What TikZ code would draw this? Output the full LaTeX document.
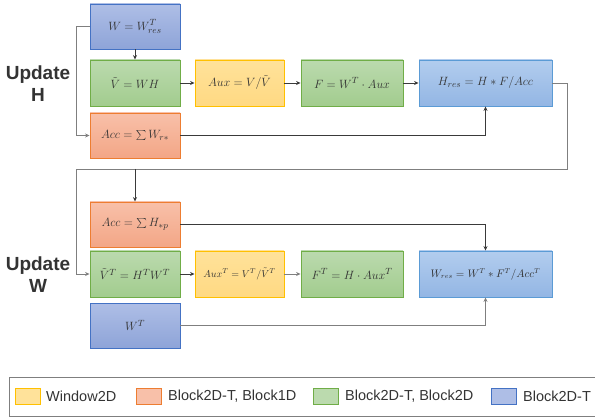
\documentclass[tikz,border=0pt]{standalone}
\usepackage{fontspec}
\setmainfont{Liberation Sans}
\usetikzlibrary{arrows.meta}
\definecolor{txt}{HTML}{333333}
\definecolor{lnd}{HTML}{3A3A3A}
\definecolor{lng}{HTML}{7F7F7F}
\definecolor{bluA}{HTML}{AEBEE6}\definecolor{bluB}{HTML}{8EA4D8}\definecolor{bluL}{HTML}{4472C4}
\definecolor{skyA}{HTML}{B2CDEE}\definecolor{skyB}{HTML}{93B6E4}\definecolor{skyL}{HTML}{5B9BD5}
\definecolor{grnA}{HTML}{BBDAAE}\definecolor{grnB}{HTML}{A2CC8E}\definecolor{grnL}{HTML}{70AD47}
\definecolor{yelA}{HTML}{FFE29A}\definecolor{yelB}{HTML}{FFD983}\definecolor{yelL}{HTML}{FFC000}
\definecolor{orgA}{HTML}{F8C0A9}\definecolor{orgB}{HTML}{F3A686}\definecolor{orgL}{HTML}{ED7D31}
\tikzset{
  box/.style={draw, line width=0.9pt, minimum height=46pt, inner sep=0pt, font=\fontsize{13}{15}\selectfont, text=txt},
  bblue/.style={box, draw=bluL, top color=bluA, bottom color=bluB},
  bsky/.style={box, draw=skyL, top color=skyA, bottom color=skyB},
  bgreen/.style={box, draw=grnL, top color=grnA, bottom color=grnB},
  byel/.style={box, draw=yelL, top color=yelA, bottom color=yelB},
  borg/.style={box, draw=orgL, top color=orgA, bottom color=orgB},
  conn/.style={draw=lnd, line width=0.8pt, -{Stealth[length=4.5pt,width=4pt]}},
  conng/.style={draw=lng, line width=0.9pt, -{Stealth[length=4.5pt,width=4pt]}},
  lbl/.style={font=\fontsize{19}{22}\selectfont\bfseries, text=txt, align=center, inner sep=0pt},
  legt/.style={font=\fontsize{14.5}{16}\selectfont, text=txt, anchor=west, inner sep=0pt},
  sw/.style={draw, line width=0.8pt, minimum width=25pt, minimum height=16pt, inner sep=0pt, anchor=west}
}
\begin{document}
\begin{tikzpicture}[x=1pt,y=-1pt]
\useasboundingbox (0,0) rectangle (595,417);
% Update H
\node[bblue, minimum width=90pt, minimum height=45pt] (w1) at (135,26.5) {$W = W_{res}^{T}$};
\node[bgreen, minimum width=90pt] (vt) at (135,83) {$\tilde{V} = WH$};
\node[byel, minimum width=89pt] (aux) at (239.5,83) {$Aux = V/\tilde{V}$};
\node[bgreen, minimum width=102pt] (f) at (352,83) {$F = W^{T}\cdot Aux$};
\node[bsky, minimum width=133pt] (hres) at (485.5,83) {$H_{res} = H * F/Acc$};
\node[borg, minimum width=90pt, minimum height=45pt] (acc) at (135,135.5) {$Acc = \textstyle\sum W_{r*}$};
\node[lbl] (uh) at (38,84) {Update\\H};
% Update W
\node[borg, minimum width=90pt, minimum height=45pt] (acc2) at (135,224.5) {$Acc = \textstyle\sum H_{*p}$};
\node[bgreen, minimum width=90pt] (vt2) at (135,274) {$\tilde{V}^{T} = H^{T}W^{T}$};
\node[byel, minimum width=89pt, font=\fontsize{10}{12}\selectfont] (aux2) at (239.5,274) {$Aux^{T} = V^{T}/\tilde{V}^{T}$};
\node[bgreen, minimum width=102pt] (f2) at (352,274) {$F^{T} = H\cdot Aux^{T}$};
\node[bsky, minimum width=133pt, font=\fontsize{10.5}{12}\selectfont] (wres) at (485.5,274) {$W_{res} = W^{T} * F^{T}/Acc^{T}$};
\node[bblue, minimum width=90pt, minimum height=45pt] (wt) at (135,325.5) {$W^{T}$};
\node[lbl] (uw) at (38,275) {Update\\W};
% connectors H
\draw[conn] (w1) -- (vt);
\coordinate (hl) at (76,26.5);
\draw[conng] (w1.west) -- (hl) |- (acc.west);
\draw[conn] (vt) -- (aux);
\draw[conn] (aux) -- (f);
\draw[conn] (f) -- (hres);
\draw[conn] (acc.east) -| (hres.south);
% loop to W
\coordinate (r1) at (567,169);
\coordinate (l1) at (76,169);
\draw[conng] (hres.east) -| (r1) -- (l1) |- (vt2.west);
\draw[conn] (acc2.north |- r1) -- (acc2.north);
% connectors W
\draw[conn] (vt2) -- (aux2);
\draw[conng] (aux2) -- (f2);
\draw[conn] (acc2.east) -| (wres.north);
\draw[conng] (wt.east) -| (wres.south);
% legend
\draw[draw=lng, line width=0.9pt] (9,377) rectangle (600,416);
\node[sw, draw=yelL, fill=yelA] (s1) at (15,396) {};
\node[legt] (t1) at (46,396) {Window2D};
\node[sw, draw=orgL, fill=orgA] (s2) at (136,396) {};
\node[legt] (t2) at (168,396) {Block2D-T, Block1D};
\node[sw, draw=grnL, fill=grnA] (s3) at (313,396) {};
\node[legt] (t3) at (345,396) {Block2D-T, Block2D};
\node[sw, draw=bluL, fill=bluA] (s4) at (491,396) {};
\node[legt] (t4) at (523,396) {Block2D-T};
\end{tikzpicture}
\end{document}
